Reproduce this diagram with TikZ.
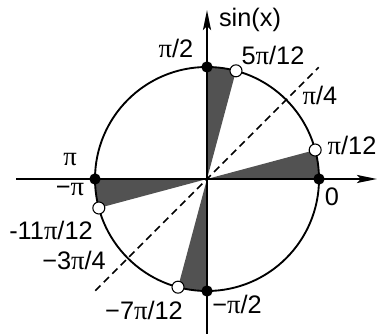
\documentclass[tikz,border=0pt]{standalone}
\usepackage{fontspec}
\setmainfont{Liberation Sans}
\newfontfamily\greekfont{Liberation Serif}
\usetikzlibrary{arrows.meta}
\newcommand{\pis}{{\greekfont\fontsize{20}{20}\selectfont π}}

\begin{document}
\begin{tikzpicture}[
  x=0.75pt,y=0.75pt,
  font=\fontsize{19}{22}\selectfont,
  axis/.style={-{Stealth[length=15pt,width=6pt,inset=3pt]},line width=1.7pt},
  unitcircle/.style={line width=1.4pt},
  diag/.style={dash pattern=on 5.5pt off 3.5pt,line width=1.3pt},
  sector/.style={fill=black!68},
  fixpt/.style={circle,fill=black,inner sep=0pt,minimum size=8.5pt},
  openpt/.style={circle,draw=black,fill=white,line width=.8pt,
                 inner sep=0pt,minimum size=9pt},
  lab/.style={inner sep=1pt}
]
\useasboundingbox (0,0) rectangle (377,334);

\coordinate (O) at (207,155);

\begin{scope}[shift={(O)}]
  % Shaded sectors.
  \fill[sector] (0,0) -- (0:112) arc[start angle=0,end angle=15,radius=112] -- cycle;
  \fill[sector] (0,0) -- (75:112) arc[start angle=75,end angle=90,radius=112] -- cycle;
  \fill[sector] (0,0) -- (180:112) arc[start angle=180,end angle=195,radius=112] -- cycle;
  \fill[sector] (0,0) -- (255:112) arc[start angle=255,end angle=270,radius=112] -- cycle;

  % Unit circle and diagonal.
  \draw[unitcircle] (0,0) circle[radius=112];
  \coordinate (dlo) at (225:158);
  \coordinate (dhi) at (45:158);
  \draw[diag] (dlo) -- (dhi);

  % Axes.
  \coordinate (xl) at (-191,0);
  \coordinate (xr) at (170,0);
  \coordinate (yb) at (0,-155);
  \coordinate (yt) at (0,169);
  \draw[axis] (xl) -- (xr);
  \draw[axis] (yb) -- (yt);

  % Points on the circle.
  \node[fixpt] (p0)   at (0:112)   {};
  \node[fixpt] (p90)  at (90:112)  {};
  \node[fixpt] (p180) at (180:112) {};
  \node[fixpt] (p270) at (270:112) {};
  \node[openpt] (q15)  at (15:112)  {};
  \node[openpt] (q75)  at (75:112)  {};
  \node[openpt] (q195) at (195:112) {};
  \node[openpt] (q255) at (255:112) {};
\end{scope}

% Labels.
\node[lab] (lsin) at (250,314) {sin(x)};
\node[lab] (l90)  at (176,286) {\pis/2};
\node[lab] (l75)  at (273,279) {5\pis/12};
\node[lab] (l45)  at (320,239) {\pis/4};
\node[lab] (l15)  at (352,189) {\pis/12};
\node[lab] (l180) at (70,174)  {\pis};
\node[lab] (lm180) at (70,144) {−\pis};
\node[lab] (l0)   at (332,137) {0};
\node[lab] (lm165) at (51,104) {-11\pis/12};
\node[lab] (lm135) at (74,74)  {−3\pis/4};
\node[lab] (lm105) at (144,24) {−7\pis/12};
\node[lab] (lm90) at (237,30)  {−\pis/2};
\end{tikzpicture}
\end{document}
